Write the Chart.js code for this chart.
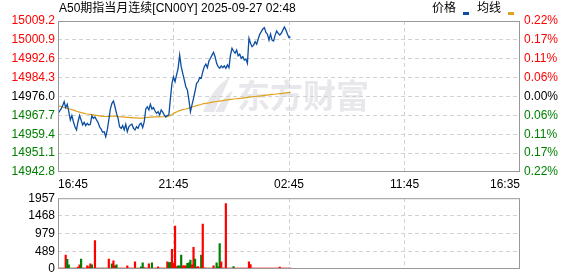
<!DOCTYPE html>
<html>
<head>
<meta charset="utf-8">
<script src="https://cdn.jsdelivr.net/npm/chart.js@4.4.1/dist/chart.umd.min.js"></script>
<style>
body { margin: 0; background: #fff; width: 578px; height: 276px; overflow: hidden; position: relative; }
canvas { position: absolute; left: 0; }
#priceChart { top: 0; }
#volumeChart { top: 188px; }
</style>
</head>
<body>
<canvas id="priceChart" width="578" height="192"></canvas>
<canvas id="volumeChart" width="578" height="100"></canvas>
<script>
var chartTitle = 'A50期指当月连续[CN00Y] 2025-09-27 02:48';
var watermark = '东方财富';

// one slot = 4 minutes of trading, 75 slots between time ticks
var timeTicks = [0, 75, 150, 225, 300];
var timeLabels = ['16:45', '21:45', '02:45', '11:45', '16:35'];

var priceTicks = [14942.8, 14951.1, 14959.4, 14967.7, 14976.0, 14984.3, 14992.6, 15000.9, 15009.2];
var pctLabels = ['0.22%', '0.17%', '0.11%', '0.06%', '0.00%', '0.06%', '0.11%', '0.17%', '0.22%'];
var volumeTicks = [0, 489, 979, 1468, 1957];

var prices = [
    14968.6, 14969.6, 14970.5, 14971.9, 14973.7, 14971.1, 14972.6, 14969.3, 14965.7, 14967.6,
    14964.9, 14962.7, 14961.3, 14964.9, 14967.6, 14965.7, 14963.5, 14964.6, 14963.2, 14964.2,
    14963.5, 14963.8, 14967.6, 14966.4, 14967.0, 14965.7, 14964.6, 14962.7, 14961.7, 14960.3,
    14960.5, 14958.3, 14961.3, 14965.7, 14970.5, 14973.0, 14974.0, 14971.5, 14968.6, 14966.4,
    14962.7, 14962.0, 14963.2, 14961.3, 14963.8, 14960.5, 14962.7, 14963.5, 14963.8, 14962.0,
    14961.3, 14962.7, 14962.0, 14963.8, 14964.2, 14962.3, 14964.9, 14970.5, 14971.5, 14970.1,
    14972.6, 14970.5, 14971.1, 14969.6, 14968.6, 14969.3, 14967.9, 14970.1, 14969.1, 14967.9,
    14967.0, 14967.6, 14967.9, 14975.2, 14981.8, 14984.7, 14982.5, 14985.5, 14988.4, 14994.2,
    14989.1, 14986.2, 14983.3, 14980.3, 14978.9, 14974.5, 14969.3, 14972.3, 14975.2, 14978.4,
    14981.8, 14982.5, 14984.3, 14984.0, 14986.9, 14989.1, 14990.2, 14988.7, 14991.6, 14992.8,
    14994.2, 14995.4, 14993.5, 14990.6, 14989.1, 14988.4, 14989.5, 14988.7, 14989.5, 14988.4,
    14989.9, 14988.7, 14994.2, 14997.2, 14996.0, 14995.0, 14996.4, 14993.9, 14994.6, 14992.8,
    14993.5, 14992.0, 14992.5, 14990.6, 15001.6, 14999.4, 14997.9, 14998.6, 15000.1, 14999.0,
    15001.3, 15003.4, 15004.5, 15005.7, 15006.3, 15004.2, 15003.4, 15000.8, 15003.4, 15000.8,
    15000.4, 15003.0, 15004.8, 15003.8, 15003.0, 15003.8, 15005.2, 15006.6, 15005.2, 15003.4,
    15001.9, 15002.2
];

var averages = [
    14971.8, 14971.8, 14971.6, 14971.4, 14971.2, 14971.0, 14970.8, 14970.6, 14970.4, 14970.2,
    14970.0, 14969.8, 14969.5, 14969.3, 14969.1, 14968.9, 14968.8, 14968.6, 14968.4, 14968.3,
    14968.2, 14968.1, 14968.0, 14967.9, 14967.8, 14967.7, 14967.6, 14967.5, 14967.4, 14967.3,
    14967.3, 14967.2, 14967.2, 14967.3, 14967.3, 14967.4, 14967.4, 14967.4, 14967.3, 14967.2,
    14967.1, 14967.0, 14967.0, 14966.9, 14966.9, 14966.8, 14966.8, 14966.7, 14966.7, 14966.6,
    14966.6, 14966.6, 14966.5, 14966.5, 14966.5, 14966.5, 14966.6, 14966.7, 14966.8, 14966.8,
    14966.9, 14966.9, 14967.0, 14967.0, 14967.0, 14967.0, 14967.0, 14967.1, 14967.1, 14967.1,
    14967.1, 14967.1, 14967.4, 14967.7, 14968.1, 14968.5, 14968.9, 14969.2, 14969.5, 14969.8,
    14970.0, 14970.2, 14970.4, 14970.5, 14970.7, 14970.9, 14971.2, 14971.4, 14971.6, 14971.8,
    14972.0, 14972.2, 14972.3, 14972.5, 14972.8, 14972.9, 14973.0, 14973.1, 14973.2, 14973.3,
    14973.5, 14973.6, 14973.7, 14973.8, 14973.9, 14974.0, 14974.1, 14974.2, 14974.3, 14974.4,
    14974.5, 14974.6, 14974.7, 14974.8, 14974.9, 14975.0, 14975.0, 14975.1, 14975.2, 14975.2,
    14975.3, 14975.4, 14975.5, 14975.5, 14975.7, 14975.8, 14975.9, 14976.0, 14976.0, 14976.1,
    14976.2, 14976.2, 14976.3, 14976.4, 14976.5, 14976.6, 14976.6, 14976.7, 14976.8, 14976.9,
    14977.0, 14977.0, 14977.1, 14977.2, 14977.3, 14977.3, 14977.4, 14977.5, 14977.6, 14977.7,
    14977.7, 14977.8
];

var volumes = [
    25, 25, 25, 25, 25, 384, 268, 116, 25, 25,
    25, 25, 25, 50, 116, 277, 25, 25, 25, 90,
    60, 143, 116, 25, 786, 25, 25, 25, 25, 25,
    25, 25, 25, 277, 25, 143, 223, 90, 116, 25,
    25, 25, 25, 25, 25, 90, 25, 25, 25, 25,
    196, 25, 25, 25, 60, 170, 40, 25, 25, 143,
    25, 170, 25, 25, 25, 63, 25, 25, 25, 25,
    25, 200, 178, 187, 545, 160, 1188, 70, 90, 90,
    384, 90, 90, 90, 160, 170, 250, 116, 598, 277,
    50, 70, 30, 384, 1241, 30, 25, 25, 25, 25,
    25, 90, 25, 170, 60, 705, 196, 25, 25, 1805,
    25, 25, 25, 25, 70, 25, 25, 25, 25, 25,
    25, 25, 25, 25, 196, 125, 25, 25, 25, 25,
    25, 25, 25, 25, 25, 25, 25, 25, 25, 25,
    25, 25, 25, 25, 50, 25, 25, 25, 25, 25,
    25, 25
];

// 1 = red (up), 0 = green (down)
var volumeUp = [
    1, 1, 1, 1, 1, 1, 0, 0, 0, 0,
    1, 1, 1, 1, 1, 0, 1, 1, 1, 1,
    1, 1, 0, 0, 1, 1, 1, 1, 0, 0,
    1, 1, 1, 1, 0, 0, 1, 1, 0, 0,
    1, 1, 1, 1, 1, 1, 1, 1, 1, 1,
    1, 1, 0, 0, 0, 0, 1, 1, 1, 1,
    0, 0, 1, 1, 1, 1, 1, 1, 1, 1,
    1, 1, 0, 0, 1, 1, 1, 1, 0, 0,
    0, 1, 1, 1, 0, 0, 0, 1, 1, 0,
    1, 1, 1, 0, 1, 1, 1, 1, 0, 1,
    1, 1, 0, 0, 0, 0, 1, 1, 1, 1,
    1, 1, 1, 0, 0, 1, 1, 1, 1, 1,
    1, 1, 1, 1, 1, 1, 1, 1, 1, 1,
    1, 1, 1, 1, 1, 1, 1, 1, 1, 1,
    1, 1, 1, 1, 1, 1, 1, 1, 1, 1,
    1, 1
];

var RED = '#ff0000';
var GREEN = '#008000';
var PRICE_BLUE = '#0b4ea2';
var AVG_ORANGE = '#e0a11c';
var GRID = '#d2d2d2';

Chart.defaults.font.family = '"Liberation Sans", Arial, "Noto Sans CJK SC", sans-serif';
Chart.defaults.font.size = 12;

function toPoints(arr) {
    return arr.map(function (v, i) { return { x: i, y: v }; });
}

// hide grid lines lying on the frame
function innerGrid(last) {
    return function (ctx) {
        return (ctx.index === 0 || ctx.index === last) ? 'rgba(0,0,0,0)' : GRID;
    };
}

function priceColor(ctx) {
    if (ctx.index < 4) return GREEN;
    if (ctx.index === 4) return '#000';
    return RED;
}

function setTicks(values) {
    return function (scale) {
        scale.ticks = values.map(function (v) { return { value: v }; });
    };
}

var framePlugin = {
    id: 'frame',
    afterDatasetsDraw: function (chart) {
        var a = chart.chartArea, c = chart.ctx;
        c.save();
        c.strokeStyle = '#999';
        c.lineWidth = 1;
        c.strokeRect(a.left + 0.5, a.top + 0.5, a.right - a.left - 1, a.bottom - a.top - 1);
        c.restore();
    }
};

var watermarkPlugin = {
    id: 'watermark',
    beforeDraw: function (chart) {
        var c = chart.ctx;
        c.save();
        c.fillStyle = '#e8e8ec';
        // logo swoosh
        c.beginPath();
        c.moveTo(203, 112);
        c.quadraticCurveTo(212, 88, 230, 77);
        c.quadraticCurveTo(222, 95, 214, 112);
        c.closePath();
        c.fill();
        c.beginPath();
        c.moveTo(215, 112);
        c.quadraticCurveTo(224, 96, 233, 90);
        c.quadraticCurveTo(229, 102, 224, 112);
        c.closePath();
        c.fill();
        c.font = 'bold 33px "Noto Sans CJK SC"';
        c.textBaseline = 'middle';
        c.fillText(watermark, 237, 95);
        c.restore();
    }
};

var headerPlugin = {
    id: 'header',
    afterDraw: function (chart) {
        var c = chart.ctx;
        var ds = chart.data.datasets;
        c.save();
        c.font = '12px "Liberation Sans", Arial, "Noto Sans CJK SC"';
        c.textBaseline = 'middle';
        c.fillStyle = '#000';
        c.fillText(chartTitle, 59, 9);
        c.fillText(ds[0].label, 432, 9);
        c.fillText(ds[1].label, 477, 9);
        c.fillStyle = ds[0].borderColor;
        c.fillRect(463, 12, 6, 3);
        c.fillStyle = ds[1].borderColor;
        c.fillRect(508, 12, 6, 3);
        c.restore();
    }
};

new Chart(document.getElementById('priceChart'), {
    type: 'line',
    data: {
        datasets: [{
            label: '价格',
            data: toPoints(prices),
            borderColor: PRICE_BLUE,
            borderWidth: 1.3,
            pointRadius: 0,
            tension: 0
        }, {
            label: '均线',
            data: toPoints(averages),
            borderColor: AVG_ORANGE,
            borderWidth: 1.2,
            pointRadius: 0,
            tension: 0
        }]
    },
    options: {
        responsive: false,
        animation: false,
        devicePixelRatio: 1,
        layout: { padding: { top: 21 } },
        plugins: { legend: { display: false }, tooltip: { enabled: false } },
        scales: {
            x: {
                type: 'linear', min: 0, max: 300, offset: false,
                afterBuildTicks: setTicks(timeTicks),
                afterFit: function (s) { s.height = 20; },
                grid: { color: innerGrid(4), drawTicks: false },
                border: { display: false, dash: [4, 3] },
                ticks: {
                    padding: 5, align: 'inner', maxRotation: 0, autoSkip: false, color: '#000',
                    callback: function (v, i) { return timeLabels[i]; }
                }
            },
            y: {
                position: 'left',
                min: priceTicks[0], max: priceTicks[priceTicks.length - 1],
                afterBuildTicks: setTicks(priceTicks),
                afterFit: function (s) { s.width = 58; },
                grid: { color: innerGrid(8), drawTicks: false },
                border: { display: false, dash: [4, 3] },
                ticks: { padding: 3, color: priceColor, callback: function (v) { return v.toFixed(1); } }
            },
            y1: {
                type: 'linear', position: 'right',
                min: priceTicks[0], max: priceTicks[priceTicks.length - 1],
                afterBuildTicks: setTicks(priceTicks),
                afterFit: function (s) { s.width = 58; },
                grid: { display: false, drawTicks: false },
                border: { display: false },
                ticks: { padding: 4, color: priceColor, callback: function (v, i) { return pctLabels[i]; } }
            }
        }
    },
    plugins: [watermarkPlugin, framePlugin, headerPlugin]
});

new Chart(document.getElementById('volumeChart'), {
    type: 'bar',
    data: {
        datasets: [{
            data: toPoints(volumes),
            backgroundColor: volumeUp.map(function (u) { return u ? RED : GREEN; }),
            barPercentage: 1,
            categoryPercentage: 1
        }]
    },
    options: {
        responsive: false,
        animation: false,
        devicePixelRatio: 1,
        layout: { padding: { top: 8, bottom: 19, right: 58 } },
        plugins: { legend: { display: false }, tooltip: { enabled: false } },
        scales: {
            x: {
                type: 'linear', min: 0, max: 300, offset: false,
                afterBuildTicks: setTicks(timeTicks),
                afterFit: function (s) { s.height = 0; },
                grid: { color: innerGrid(4), drawTicks: false, offset: false },
                border: { display: false, dash: [4, 3] },
                ticks: { display: false }
            },
            y: {
                min: 0, max: volumeTicks[volumeTicks.length - 1],
                afterBuildTicks: setTicks(volumeTicks),
                afterFit: function (s) { s.width = 58; },
                grid: { color: innerGrid(4), drawTicks: false },
                border: { display: false, dash: [4, 3] },
                ticks: { padding: 3, color: '#000', callback: function (v) { return String(v); } }
            }
        }
    },
    plugins: [framePlugin]
});
</script>
</body>
</html>
